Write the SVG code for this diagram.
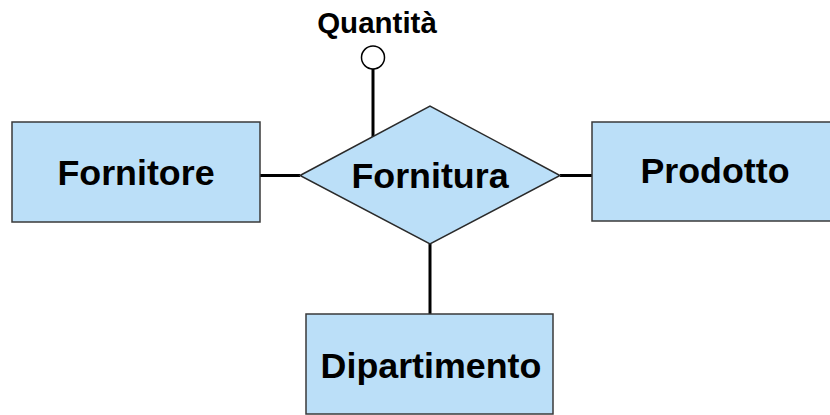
<svg xmlns="http://www.w3.org/2000/svg" width="830" height="415" viewBox="0 0 830 415">
<style>
.ent{fill:#bbdff8;stroke:#3a3a3a;stroke-width:1.5}
.rel{fill:#bbdff8;stroke:#2a2a2a;stroke-width:1.5}
.lbl{font-family:"Liberation Sans",Arial,sans-serif;font-weight:bold;font-size:35.8px;fill:#000;text-anchor:middle}
.att{font-family:"Liberation Sans",Arial,sans-serif;font-weight:bold;font-size:29.5px;fill:#000;text-anchor:middle}
.con{stroke:#000;stroke-width:3;fill:none}
</style>
<rect width="830" height="415" fill="#fff"/>
<g id="connectors">
<line class="con" x1="260" y1="175.5" x2="300" y2="175.5"/>
<line class="con" x1="560" y1="175.5" x2="592" y2="175.5"/>
<line class="con" x1="430" y1="244" x2="430" y2="314"/>
<line class="con" x1="373" y1="68" x2="373" y2="137"/>
</g>
<g id="fornitore">
<rect class="ent" x="12" y="122" width="248" height="100"/>
<text class="lbl" x="136" y="185">Fornitore</text>
</g>
<g id="prodotto">
<rect class="ent" x="592" y="122" width="248" height="99"/>
<text class="lbl" x="715" y="183">Prodotto</text>
</g>
<g id="dipartimento">
<rect class="ent" x="306" y="314" width="247" height="100"/>
<text class="lbl" x="431" y="378">Dipartimento</text>
</g>
<g id="fornitura">
<polygon class="rel" points="300,175.5 430,106 560,175.5 430,244"/>
<text class="lbl" x="430" y="188">Fornitura</text>
</g>
<g id="quantita">
<circle cx="373" cy="57.5" r="11.5" fill="#fff" stroke="#000" stroke-width="1.5"/>
<text class="att" x="377" y="33">Quantità</text>
</g>
</svg>
